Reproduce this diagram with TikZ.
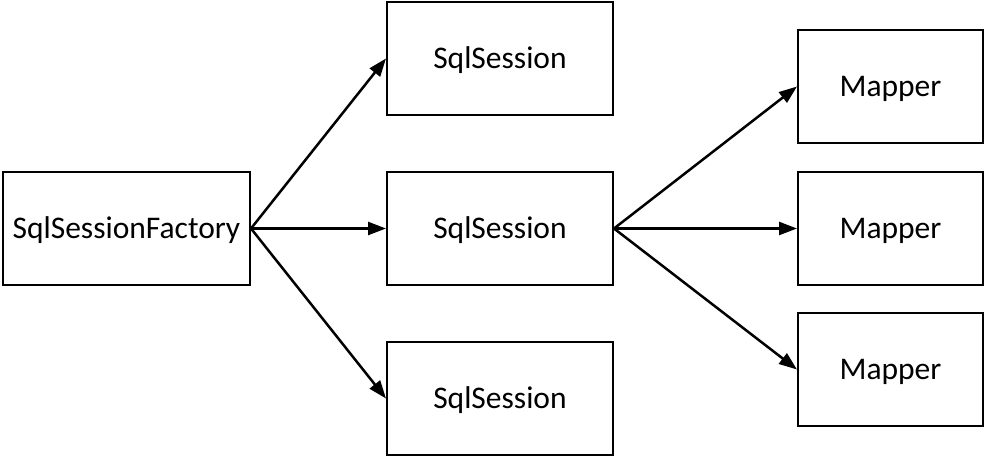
\documentclass[tikz,border=0pt]{standalone}
\usepackage{fontspec}
\setmainfont{Carlito}
\usetikzlibrary{arrows.meta}
\begin{document}
\begin{tikzpicture}[x=1pt,y=-1pt,
  box/.style={draw, line width=2pt, minimum height=113pt, inner sep=0pt, text height=20pt, text depth=0pt, font=\fontsize{31.5}{36}\selectfont},
  conn/.style={line width=2.5pt, -{Triangle[length=18pt,width=13pt]}}]
\useasboundingbox (0,0) rectangle (986,457);
\node[box, minimum width=247pt] (f) at (126.5,228.5) {SqlSessionFactory};
\node[box, minimum width=226pt] (s1) at (500,58.5) {SqlSession};
\node[box, minimum width=226pt] (s2) at (500,228.5) {SqlSession};
\node[box, minimum width=226pt] (s3) at (500,398.5) {SqlSession};
\node[box, minimum width=185pt] (m1) at (890.5,86.5) {Mapper};
\node[box, minimum width=185pt] (m2) at (890.5,228.5) {Mapper};
\node[box, minimum width=185pt] (m3) at (890.5,369.5) {Mapper};
\draw[conn] (f.east) -- (s1.west);
\draw[conn] (f.east) -- (s2.west);
\draw[conn] (f.east) -- (s3.west);
\draw[conn] (s2.east) -- (m1.west);
\draw[conn] (s2.east) -- (m2.west);
\draw[conn] (s2.east) -- (m3.west);
\end{tikzpicture}
\end{document}
